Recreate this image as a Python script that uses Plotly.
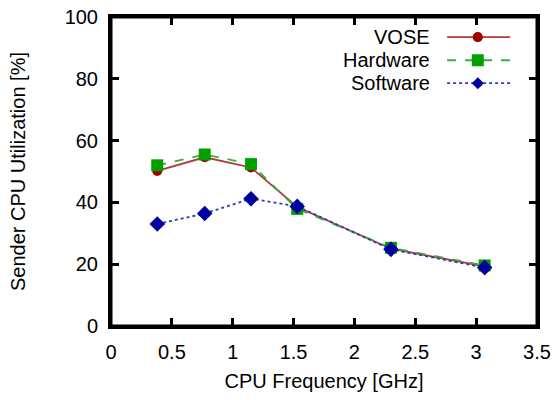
import plotly.graph_objects as go

freq = [0.38, 0.77, 1.15, 1.53, 2.30, 3.07]
vose = [50.2, 54.6, 51.3, 38.5, 25.0, 19.3]
hardware = [52.0, 55.5, 52.4, 37.9, 25.3, 19.6]
software = [33.0, 36.4, 41.2, 38.7, 24.8, 18.9]
names = ["VOSE", "Hardware", "Software"]

RED = "#A00000"
GREEN = "#00A000"
BLUE = "#0000A0"
FONT = "Liberation Sans, Arial, sans-serif"

fig = go.Figure()
fig.add_trace(go.Scatter(x=freq, y=vose, name=names[0], mode="lines+markers",
                         line=dict(color="#B03838", width=1.8, dash="solid"),
                         marker=dict(symbol="circle", size=10, color=RED)))
fig.add_trace(go.Scatter(x=freq, y=hardware, name=names[1], mode="lines+markers",
                         line=dict(color="#38B038", width=1.8, dash="dash"),
                         marker=dict(symbol="square", size=12, color=GREEN)))
fig.add_trace(go.Scatter(x=freq, y=software, name=names[2], mode="lines+markers",
                         line=dict(color="#3838B0", width=1.8, dash="dot"),
                         marker=dict(symbol="diamond", size=12, color=BLUE)))

axis_common = dict(showline=True, linecolor="black", linewidth=3, mirror="ticks",
                   ticks="inside", ticklen=8, tickwidth=3, tickcolor="black",
                   showgrid=False, zeroline=False, automargin=False,
                   ticklabeloverflow="allow",
                   tickfont=dict(family=FONT, size=20, color="black"))
fig.update_xaxes(range=[0, 3.5], dtick=0.5, tick0=0, ticklabelstandoff=6,
                 title=dict(text="CPU Frequency [GHz]", font=dict(family=FONT, size=20, color="black"), standoff=12),
                 **axis_common)
fig.update_yaxes(range=[0, 100], dtick=20, tick0=0, ticklabelstandoff=6,
                 title=dict(text="Sender CPU Utilization [%]", font=dict(family=FONT, size=20, color="black"), standoff=34),
                 **axis_common)

# frame around the plotting area
fig.add_shape(type="rect", xref="paper", yref="paper", x0=0, x1=1, y0=0, y1=1,
              line=dict(color="black", width=3), layer="above")

# legend drawn manually (text left of sample)
leg_y = [0.935, 0.860, 0.786]
styles = [("solid", "#B03838", RED, "circle"), ("dash", "#38B038", GREEN, "square"), ("dot", "#3838B0", BLUE, "diamond")]
x0, x1 = 0.789, 0.937
xm = 0.861
for nm, yy, (dash, lc, mc, sym) in zip(names, leg_y, styles):
    fig.add_annotation(xref="paper", yref="paper", x=0.7535, y=yy, text=nm, showarrow=False,
                       xanchor="right", yanchor="middle", font=dict(family=FONT, size=20, color="black"))
    fig.add_shape(type="line", xref="paper", yref="paper", x0=x0, x1=x1, y0=yy, y1=yy,
                  line=dict(color=lc, width=1.8, dash=dash))
    s = 6 / 426
    sy = 6 / 309
    if sym == "circle":
        fig.add_shape(type="circle", xref="paper", yref="paper", x0=xm - s * 0.85, x1=xm + s * 0.85,
                      y0=yy - sy * 0.85, y1=yy + sy * 0.85, fillcolor=mc, line=dict(width=0))
    elif sym == "square":
        fig.add_shape(type="rect", xref="paper", yref="paper", x0=xm - s, x1=xm + s,
                      y0=yy - sy, y1=yy + sy, fillcolor=mc, line=dict(width=0))
    else:
        fig.add_shape(type="path", xref="paper", yref="paper",
                      path=f"M {xm - s} {yy} L {xm} {yy + sy} L {xm + s} {yy} L {xm} {yy - sy} Z",
                      fillcolor=mc, line=dict(width=0))

fig.update_layout(width=558, height=400, showlegend=False,
                  margin=dict(l=111, r=21, t=17, b=74),
                  plot_bgcolor="white", paper_bgcolor="white",
                  font=dict(family=FONT, size=20, color="black"))

# remove the default 8px page margin so the 558x400 figure fills the window exactly
fig.write_html("out.html", config={"displayModeBar": False},
               post_script="document.body.style.margin='0';")
